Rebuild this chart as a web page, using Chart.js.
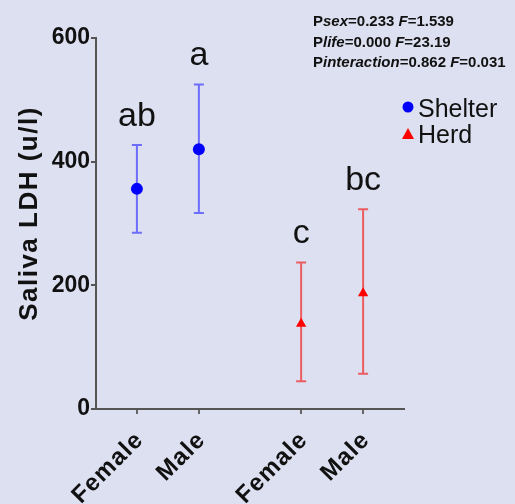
<!DOCTYPE html>
<html><head><meta charset="utf-8">
<script src="https://cdn.jsdelivr.net/npm/chart.js@4"></script>
<style>html,body{margin:0;padding:0;background:#dde0f0;}canvas{display:block;}</style>
</head><body>
<canvas id="c" width="515" height="504"></canvas>
<script>
// ---- data ----
const categories = ['Female', 'Male', 'Female', 'Male'];
const xSlots = [1, 2, 3.65, 4.65];
const shelterMean = [356, 420];
const shelterUpper = [427, 525];
const shelterLower = [285, 317];
const herdMean = [138, 187];
const herdUpper = [237, 323];
const herdLower = [45, 57];
const groupLetters = ['ab', 'a', 'c', 'bc'];
const yTicks = [0, 200, 400, 600];
const seriesNames = ['Shelter', 'Herd'];
const statLines = [
  [['P', 0], ['sex', 1], ['=0.233 ', 0], ['F', 1], ['=1.539', 0]],
  [['P', 0], ['life', 1], ['=0.000 ', 0], ['F', 1], ['=23.19', 0]],
  [['P', 0], ['interaction', 1], ['=0.862 ', 0], ['F', 1], ['=0.031', 0]]
];

const FONT = '"Liberation Sans", Arial, Helvetica, sans-serif';
const BLUE = '#0000ff', RED = '#ff0000';
const BLUE_BAR = 'rgba(80,80,255,0.8)', RED_BAR = 'rgba(240,50,50,0.75)';

const upperAll = shelterUpper.concat(herdUpper);
const lowerAll = shelterLower.concat(herdLower);

// draw a scale's labels / title with letter spacing and an offset
function patch(scale, method, spacing, dx, dy) {
  if (scale['_p_' + method]) return;
  const orig = scale[method];
  scale[method] = function (...args) {
    const ctx = this.ctx;
    ctx.save();
    ctx.letterSpacing = spacing;
    ctx.translate(dx, dy);
    orig.apply(this, args);
    ctx.restore();
  };
  scale['_p_' + method] = true;
}

const extras = {
  id: 'extras',
  beforeDatasetsDraw(chart) {
    const ctx = chart.ctx, xs = chart.scales.x, ys = chart.scales.y;
    ctx.save();
    ctx.lineWidth = 2;
    for (let i = 0; i < xSlots.length; i++) {
      const x = xs.getPixelForValue(xSlots[i]);
      const yt = ys.getPixelForValue(upperAll[i]);
      const yb = ys.getPixelForValue(lowerAll[i]);
      ctx.strokeStyle = i < 2 ? BLUE_BAR : RED_BAR;
      ctx.beginPath();
      ctx.moveTo(x, yt); ctx.lineTo(x, yb);
      ctx.moveTo(x - 5, yt); ctx.lineTo(x + 5, yt);
      ctx.moveTo(x - 5, yb); ctx.lineTo(x + 5, yb);
      ctx.stroke();
    }
    ctx.restore();
  },
  afterDraw(chart) {
    const ctx = chart.ctx, xs = chart.scales.x, ys = chart.scales.y, ca = chart.chartArea;
    ctx.save();
    // significance letters
    ctx.fillStyle = '#111';
    ctx.font = '34px ' + FONT;
    ctx.textAlign = 'center';
    ctx.textBaseline = 'alphabetic';
    for (let i = 0; i < xSlots.length; i++) {
      const x = xs.getPixelForValue(xSlots[i]);
      const y = ys.getPixelForValue(upperAll[i]) - 19;
      ctx.fillText(groupLetters[i], x, y);
    }
    // legend
    const lx = ca.right + 4;
    ctx.textAlign = 'left';
    ctx.font = '25px ' + FONT;
    ctx.fillStyle = BLUE;
    ctx.beginPath(); ctx.arc(lx, 107, 5.5, 0, Math.PI * 2); ctx.fill();
    ctx.fillStyle = RED;
    ctx.beginPath(); ctx.moveTo(lx, 128); ctx.lineTo(lx + 6, 139); ctx.lineTo(lx - 6, 139); ctx.closePath(); ctx.fill();
    ctx.fillStyle = '#111';
    ctx.fillText(seriesNames[0], lx + 10, 117);
    ctx.fillText(seriesNames[1], lx + 10, 143);
    // stats text
    const baseY = [26, 47, 67];
    statLines.forEach((segs, li) => {
      let x = 313;
      segs.forEach(([t, it]) => {
        ctx.font = (it ? 'italic ' : '') + 'bold 15px ' + FONT;
        ctx.fillText(t, x, baseY[li]);
        x += ctx.measureText(t).width;
      });
    });
    ctx.restore();
  }
};

new Chart(document.getElementById('c'), {
  type: 'scatter',
  data: {
    datasets: [
      {
        label: seriesNames[0],
        data: shelterMean.map((v, i) => ({ x: xSlots[i], y: v })),
        pointStyle: 'circle', pointRadius: 6,
        backgroundColor: BLUE, borderColor: BLUE, borderWidth: 0
      },
      {
        label: seriesNames[1],
        data: herdMean.map((v, i) => ({ x: xSlots[i + 2], y: v })),
        pointStyle: 'triangle', pointRadius: 6,
        backgroundColor: RED, borderColor: RED, borderWidth: 0
      }
    ]
  },
  options: {
    responsive: false,
    animation: false,
    layout: { padding: { top: 38, right: 111, left: 0, bottom: 0 } },
    plugins: { legend: { display: false }, tooltip: { enabled: false } },
    scales: {
      x: {
        type: 'linear', min: 0.34, max: 5.31,
        afterBuildTicks(s) { s.ticks = xSlots.map(v => ({ value: v })); },
        afterFit(s) { s.height = 95; },
        afterUpdate(s) { patch(s, 'drawLabels', '1.2px', 3, 0); },
        ticks: {
          callback: (v, i) => categories[i],
          minRotation: 45, maxRotation: 45, autoSkip: false,
          font: { family: FONT, size: 24, weight: 'bold' }, color: '#111', padding: 12
        },
        grid: { display: true, drawOnChartArea: false, drawTicks: true, tickLength: 5, color: '#666', lineWidth: 2 },
        border: { display: true, color: '#555', width: 2 }
      },
      y: {
        min: 0, max: 600,
        afterBuildTicks(s) { s.ticks = yTicks.map(v => ({ value: v })); },
        afterFit(s) { s.width = 96; },
        afterUpdate(s) { patch(s, 'drawTitle', '1.5px', 0, -10); },
        ticks: { font: { family: FONT, size: 23, weight: 'bold' }, color: '#111', padding: 1 },
        grid: { drawOnChartArea: false, drawTicks: true, tickLength: 5, color: '#555', lineWidth: 2 },
        border: { display: true, color: '#555', width: 2 },
        title: {
          display: true, text: 'Saliva LDH (u/l)',
          font: { family: FONT, size: 26, weight: 'bold' }, color: '#111',
          padding: { top: 14, bottom: 0 }
        }
      }
    }
  },
  plugins: [extras]
});
</script>
</body></html>
